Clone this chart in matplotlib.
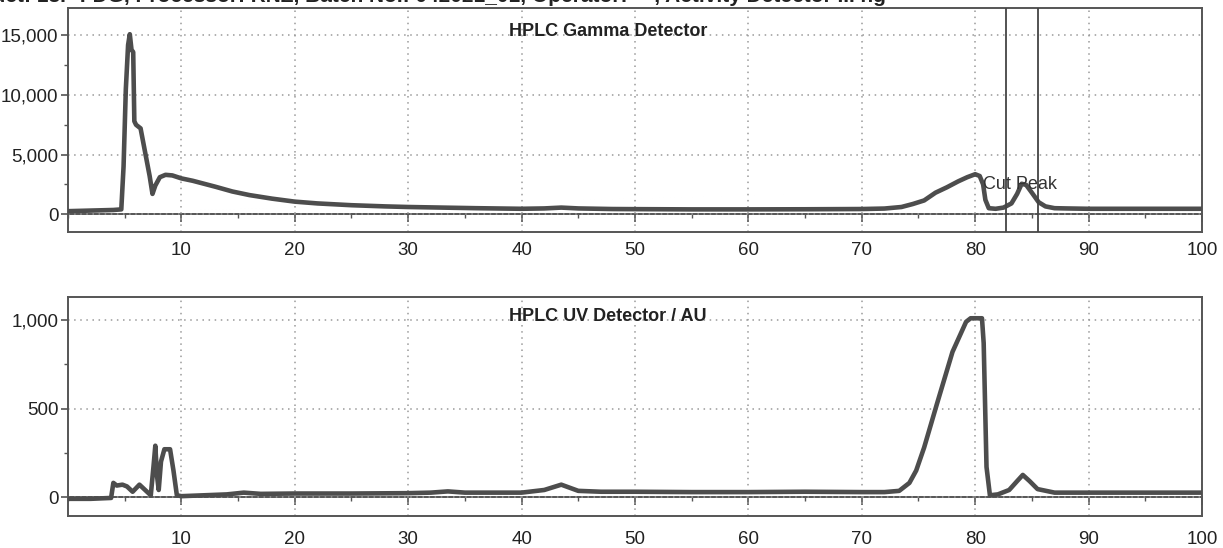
import matplotlib
matplotlib.use("Agg")
import matplotlib.pyplot as plt
from matplotlib.ticker import MultipleLocator, FuncFormatter

plt.rcParams['font.family'] = ['Liberation Sans', 'DejaVu Sans']

# ---- data ----
header_text = "Product: 18F-FDG, Processor: RNZ, Batch No.: 042021_01, Operator: ---, Activity Detector ... ng"

gamma_title = "HPLC Gamma Detector"
uv_title = "HPLC UV Detector / AU"
cut_label = "Cut Peak"
cut_start = 82.7
cut_end = 85.5

t_gamma = [0, 2, 4, 4.7, 4.9, 5.1, 5.3, 5.45, 5.6, 5.75, 5.85, 6.0, 6.4, 6.8, 7.2,
           7.45, 7.7, 8.1, 8.6, 9.2, 10, 11, 12, 13, 14.5, 16, 18, 20, 22, 25,
           28, 30, 33, 36, 40, 42, 43.5, 45, 48, 50, 55, 60, 65, 70, 72,
           73.5, 74.5, 75.5, 76.5, 77.5, 78.5, 79.3, 80, 80.4, 80.7, 80.9, 81.2, 81.8, 82.5, 83.2,
           83.7, 84.1, 84.5, 85, 85.6, 86.2, 87, 88, 90, 95, 100]
gamma = [250, 300, 350, 400, 4000, 10500, 14200, 15100, 13800, 13600, 7800, 7500, 7200, 5200, 3200,
         1700, 2400, 3100, 3300, 3250, 3000, 2800, 2550, 2300, 1900, 1600, 1300, 1050, 900, 750,
         650, 600, 550, 500, 450, 480, 550, 480, 430, 420, 400, 400, 410, 430, 470,
         600, 850, 1150, 1800, 2250, 2750, 3100, 3350, 3200, 2500, 1200, 500, 450, 550, 900,
         1700, 2550, 2450, 1800, 1000, 650, 500, 480, 450, 450, 450]

t_uv = [0, 2, 3.8, 4.0, 4.3, 4.8, 5.2, 5.7, 6.3, 6.8, 7.3, 7.55, 7.7, 7.85, 8.0,
        8.2, 8.5, 9.0, 9.3, 9.6, 10, 12, 14, 15.5, 17, 20, 25, 30, 32, 33.5,
        35, 40, 42, 43.5, 45, 47, 50, 55, 60, 65, 70, 72, 73.3, 74.2, 74.8,
        75.5, 76.6, 78, 79.2, 79.6, 80.6, 80.75, 81.0, 81.3, 82, 83, 83.7, 84.2, 84.8, 85.5,
        87, 90, 95, 100]
uv = [-10, -10, -5, 80, 65, 70, 60, 30, 70, 40, 10, 180, 290, 120, 40,
      200, 270, 270, 150, 10, 5, 10, 15, 25, 18, 20, 20, 22, 25, 32,
      25, 25, 40, 70, 35, 30, 30, 28, 28, 30, 28, 28, 35, 80, 150,
      280, 520, 820, 990, 1010, 1010, 870, 170, 10, 15, 40, 90, 125, 90, 45,
      25, 25, 25, 25]

x_major = [10, 20, 30, 40, 50, 60, 70, 80, 90, 100]

# ---- style ----
line_col = '#4d4d4d'
frame_col = '#555555'
grid_col = '#9a9a9a'
fs = 13.5

fig = plt.figure(figsize=(12.23, 5.48), dpi=100)
ax1 = fig.add_axes([0.0556, 0.5766, 0.9272, 0.4088])
ax2 = fig.add_axes([0.0556, 0.0584, 0.9272, 0.3996])

fig.text(-0.045, 1.007, header_text, fontsize=15, fontweight='bold', ha='left', va='center',
         color='#222222')

def style(ax, ylim, ymaj, ymin, label_pad, title, title_y):
    ax.set_xlim(0, 100)
    ax.set_ylim(*ylim)
    for s in ax.spines.values():
        s.set_color(frame_col)
        s.set_linewidth(1.4)
    ax.yaxis.set_major_locator(MultipleLocator(ymaj))
    ax.yaxis.set_minor_locator(MultipleLocator(ymin))
    ax.yaxis.set_major_formatter(FuncFormatter(lambda v, p: f"{v:,.0f}"))
    ax.set_xticks(x_major)
    ax.tick_params(axis='x', which='both', length=0, pad=label_pad, labelsize=fs, labelcolor='#222222')
    ax.tick_params(axis='y', which='major', length=5, width=1.2, color=frame_col, pad=2,
                   labelsize=fs, labelcolor='#222222')
    ax.tick_params(axis='y', which='minor', length=3, width=1.0, color=frame_col)
    ax.grid(True, which='major', color=grid_col, linestyle=(0, (1, 3)), linewidth=1.1)
    # zero line with ticks
    frac = (0 - ylim[0]) / (ylim[1] - ylim[0])
    sec = ax.secondary_xaxis(frac)
    sec.set_xticks(x_major)
    sec.xaxis.set_minor_locator(MultipleLocator(5))
    sec.tick_params(axis='x', which='major', direction='out', length=6, width=1.2,
                    color=frame_col, labelbottom=False)
    sec.tick_params(axis='x', which='minor', direction='out', length=3, width=1.0,
                    color=frame_col)
    sec.spines['bottom'].set_color(frame_col)
    sec.spines['bottom'].set_linewidth(1.4)
    ax.text(0.476, title_y, title, transform=ax.transAxes,
            ha='center', va='center', fontsize=13, fontweight='bold', color='#222222')

style(ax1, (-1500, 17300), 5000, 2500, 7, gamma_title, 0.895)
style(ax2, (-107, 1130), 500, 250, 11, uv_title, 0.913)

ax1.plot(t_gamma, gamma, color=line_col, linewidth=3.3, solid_joinstyle='round', zorder=3)
ax2.plot(t_uv, uv, color=line_col, linewidth=3.3, solid_joinstyle='round', zorder=3)

for xc in (cut_start, cut_end):
    ax1.axvline(xc, color='#444444', linewidth=1.3, zorder=4)
ax1.text(80.7, 2500, cut_label, fontsize=13, ha='left', va='center', color='#333333', zorder=5)

fig.savefig("out.png", dpi=100)
